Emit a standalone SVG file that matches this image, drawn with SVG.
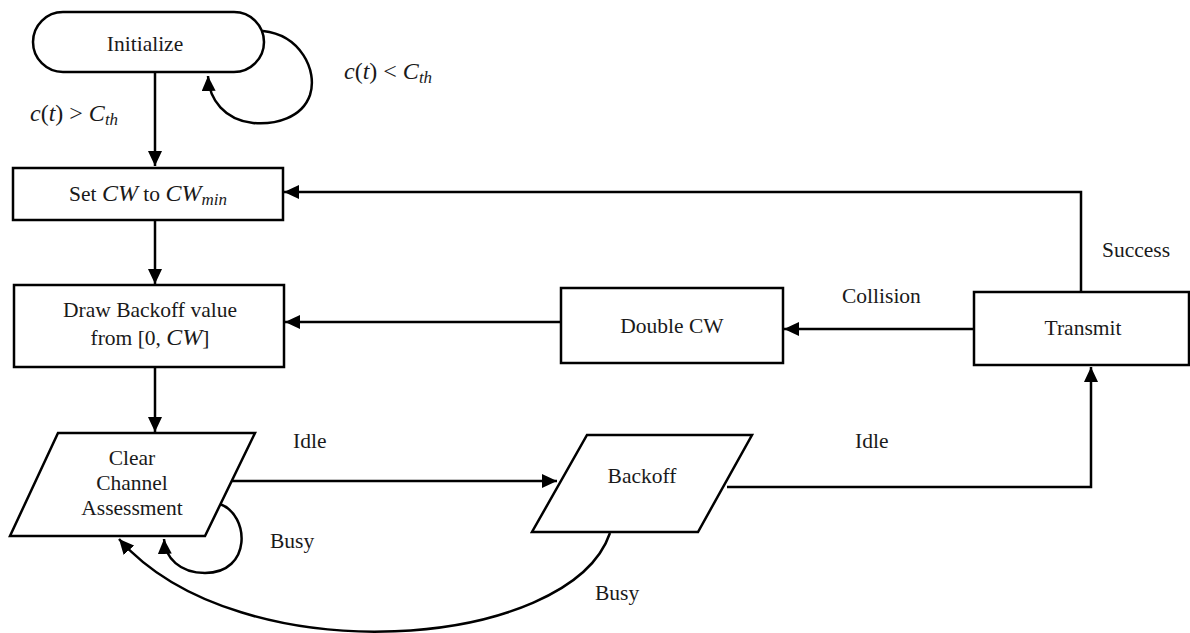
<svg xmlns="http://www.w3.org/2000/svg" width="1190" height="633" viewBox="0 0 1190 633" font-family="'Liberation Serif', 'DejaVu Serif', serif">
<style>
  .shape { fill: #ffffff; stroke: #000000; stroke-width: 2.5; }
  .conn { fill: none; stroke: #000000; stroke-width: 2.5; }
  text { font-family: 'Liberation Serif', 'DejaVu Serif', serif; font-size: 21.5px; fill: #1a1a1a; }
  .c { text-anchor: middle; }
  .i { font-style: italic; }
  .m { font-size: 24px; }
  .mi { font-style: italic; font-size: 24px; }
  .sub { font-style: italic; font-size: 17px; }
</style>
<defs>
  <marker id="arrow" markerUnits="userSpaceOnUse" markerWidth="16" markerHeight="14" refX="15" refY="7" orient="auto">
    <path d="M0,0 L15,7 L0,14 z" fill="#000000"/>
  </marker>
</defs>

<g id="connectors">
  <path class="conn" d="M263,31 C300,35 318,70 310,95 C302,118 275,125 253,123 C225,120 209,100 208,76" marker-end="url(#arrow)"/>
  <line class="conn" x1="155" y1="72" x2="155" y2="166" marker-end="url(#arrow)"/>
  <line class="conn" x1="155" y1="220" x2="155" y2="284" marker-end="url(#arrow)"/>
  <line class="conn" x1="155" y1="367" x2="155" y2="432" marker-end="url(#arrow)"/>
  <line class="conn" x1="230" y1="481" x2="557" y2="481" marker-end="url(#arrow)"/>
  <path class="conn" d="M220,504 C250,515 252,573 205,573 C180,573 165,558 164,539" marker-end="url(#arrow)"/>
  <path class="conn" d="M610,533 C570,650 240,676 119,539" marker-end="url(#arrow)"/>
  <polyline class="conn" points="727,487 1091,487 1091,367" marker-end="url(#arrow)"/>
  <line class="conn" x1="974" y1="329" x2="784" y2="329" marker-end="url(#arrow)"/>
  <line class="conn" x1="561" y1="322" x2="285" y2="322" marker-end="url(#arrow)"/>
  <polyline class="conn" points="1081,292 1081,192 284,192" marker-end="url(#arrow)"/>
</g>

<g id="labels">
  <text class="m" x="344" y="79"><tspan class="mi">c</tspan>(<tspan class="mi">t</tspan>) &lt; <tspan class="mi">C</tspan><tspan class="sub" dy="4">th</tspan></text>
  <text class="m" x="30" y="121"><tspan class="mi">c</tspan>(<tspan class="mi">t</tspan>) &gt; <tspan class="mi">C</tspan><tspan class="sub" dy="4">th</tspan></text>
  <text x="293" y="448">Idle</text>
  <text x="855" y="448">Idle</text>
  <text x="842" y="303">Collision</text>
  <text x="1102" y="257">Success</text>
  <text x="270" y="548">Busy</text>
  <text x="595" y="600">Busy</text>
</g>

<g id="initialize">
  <rect class="shape" x="33" y="12" width="231" height="60" rx="30" ry="30"/>
  <text class="c" x="145" y="51">Initialize</text>
</g>

<g id="set-cw">
  <rect class="shape" x="13" y="168" width="270" height="52"/>
  <text class="c" x="148" y="201">Set <tspan class="mi">CW</tspan> to <tspan class="mi">CW</tspan><tspan class="sub" dy="4">min</tspan></text>
</g>

<g id="draw-backoff">
  <rect class="shape" x="14" y="285" width="270" height="82"/>
  <text class="c" x="150" y="317">Draw Backoff value</text>
  <text class="c" x="150" y="345">from [0, <tspan class="mi">CW</tspan>]</text>
</g>

<g id="cca">
  <polygon class="shape" points="58,433 255,433 205,536 10,536"/>
  <text class="c" x="132" y="465">Clear</text>
  <text class="c" x="132" y="490">Channel</text>
  <text class="c" x="132" y="515">Assessment</text>
</g>

<g id="double-cw">
  <rect class="shape" x="561" y="288" width="222" height="75"/>
  <text class="c" x="672" y="333">Double CW</text>
</g>

<g id="backoff">
  <polygon class="shape" points="587,435 752,435 698,532 532,532"/>
  <text class="c" x="642" y="483">Backoff</text>
</g>

<g id="transmit">
  <rect class="shape" x="974" y="292" width="215" height="73"/>
  <text class="c" x="1083" y="335">Transmit</text>
</g>
</svg>
